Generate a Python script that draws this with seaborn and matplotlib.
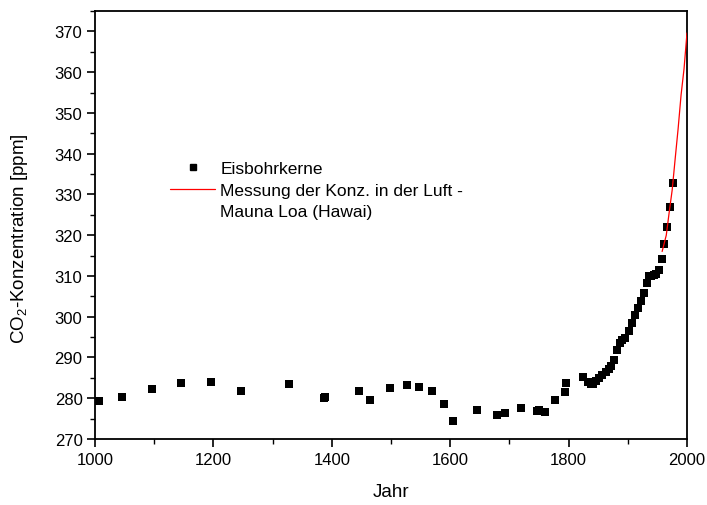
import matplotlib
matplotlib.use("Agg")
import matplotlib.pyplot as plt
from matplotlib.ticker import MultipleLocator
from matplotlib.lines import Line2D
import seaborn as sns
import pandas as pd

# Ice-core CO2 record (year, ppm)
ice_years = [1006, 1046, 1096, 1146, 1196, 1246, 1327, 1387, 1388, 1446, 1465,
             1499, 1527, 1547, 1570, 1589, 1604, 1646, 1679, 1692, 1720, 1747,
             1750, 1760, 1777, 1794, 1796, 1825, 1832, 1838, 1842, 1846, 1851,
             1856, 1863, 1868, 1872, 1877, 1882, 1887, 1891, 1896, 1902, 1907,
             1912, 1917, 1922, 1927, 1932, 1936, 1940, 1944, 1948, 1952, 1957,
             1962, 1967, 1971, 1976]
ice_ppm = [279.4, 280.2, 282.3, 283.7, 283.9, 281.7, 283.4, 280.0, 280.4, 281.7, 279.6,
           282.4, 283.2, 282.8, 281.9, 278.7, 274.3, 277.2, 275.8, 276.5, 277.5, 276.9,
           277.2, 276.6, 279.5, 281.6, 283.7, 285.1, 284.1, 283.5, 283.5, 284.2, 284.9,
           285.7, 286.5, 287.2, 288.0, 289.5, 291.8, 293.6, 294.2, 294.9, 296.6, 298.5,
           300.4, 302.1, 303.9, 305.9, 308.2, 310.1, 310.0, 310.2, 310.4, 311.5, 314.2,
           317.8, 321.9, 327.0, 332.8]

# Atmospheric measurements at Mauna Loa (year, ppm)
ml_years = [1958, 1965, 1970, 1975, 1980, 1985, 1990, 1995, 2000]
ml_ppm = [316.0, 320.0, 325.7, 331.1, 338.7, 346.1, 354.4, 360.8, 369.6]

legend_labels = ["Eisbohrkerne", "Messung der Konz. in der Luft -", "Mauna Loa (Hawai)"]

ice = pd.DataFrame({"Jahr": ice_years, "ppm": ice_ppm})
ml = pd.DataFrame({"Jahr": ml_years, "ppm": ml_ppm})

sns.set_theme(style="ticks")
plt.rcParams["font.family"] = ["Liberation Sans", "DejaVu Sans"]
plt.rcParams["mathtext.default"] = "regular"
plt.rcParams["text.color"] = "black"
plt.rcParams["axes.labelcolor"] = "black"

fig = plt.figure(figsize=(7.07, 5.06), dpi=100)
ax = fig.add_axes([0.1344, 0.1304, 0.8373, 0.8459])

sns.lineplot(data=ml, x="Jahr", y="ppm", ax=ax, color="#ff0000", linewidth=0.9,
             zorder=3)
sns.scatterplot(data=ice, x="Jahr", y="ppm", ax=ax, marker="s", s=26,
                color="black", linewidth=0, zorder=2)

ax.set_xlim(1000, 2000)
ax.set_ylim(270, 375)
ax.xaxis.set_major_locator(MultipleLocator(200))
ax.xaxis.set_minor_locator(MultipleLocator(100))
ax.yaxis.set_major_locator(MultipleLocator(10))
ax.yaxis.set_minor_locator(MultipleLocator(5))
ax.tick_params(which="major", direction="out", length=6, width=1.2,
               labelsize=12, color="black", labelcolor="black", pad=3)
ax.tick_params(which="minor", direction="out", length=3.5, width=1.0, color="black")
for s in ax.spines.values():
    s.set_linewidth(1.3)
    s.set_color("black")

ax.set_xlabel("Jahr", fontsize=13.5, labelpad=12)
ax.set_ylabel("CO$_2$-Konzentration [ppm]", fontsize=13.5)
ax.yaxis.set_label_coords(-0.11, 0.47)

# Legend: the red line sits beside the first line of its two-line label
handles = [
    Line2D([], [], marker="s", linestyle="none", color="black", markersize=5),
    Line2D([], [], color="#ff0000", linewidth=0.9),
    Line2D([], [], linestyle="none"),
]
ax.legend(handles, legend_labels, loc="upper left", bbox_to_anchor=(0.115, 0.665),
          frameon=False, fontsize=12.5, handlelength=2.6, handletextpad=0.3,
          labelspacing=0.35, borderaxespad=0)

fig.savefig("out.png", dpi=100)
